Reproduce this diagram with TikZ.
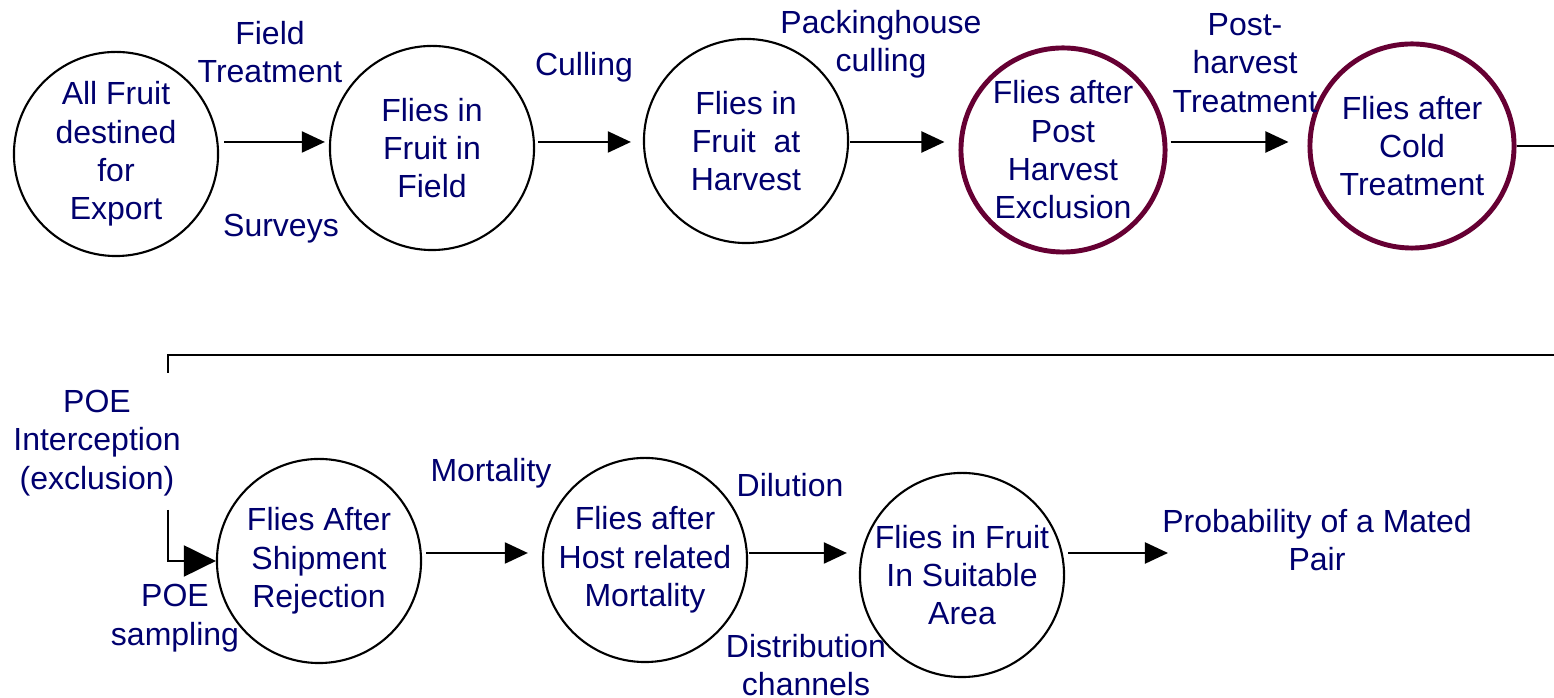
\documentclass[tikz,border=0pt]{standalone}
\usepackage{fontspec}
\setmainfont{Liberation Sans}
\usetikzlibrary{arrows.meta}
\definecolor{navytxt}{RGB}{0,0,110}
\definecolor{maroonline}{RGB}{102,0,51}
\begin{document}
\begin{tikzpicture}[x=0.01cm,y=-0.01cm,
  every node/.style={font=\fontsize{9.1}{10.9}\selectfont, text=navytxt, align=center},
  stage/.style={circle, draw=black, line width=0.6pt, minimum size=2.04cm, inner sep=0pt},
  keystage/.style={stage, draw=maroonline, line width=1.4pt},
  lbl/.style={inner sep=0pt},
  conn/.style={draw=black, line width=0.6pt},
  arr/.style={conn, -{Triangle[length=0.23cm,width=0.21cm]}},
  bigarr/.style={conn, -{Triangle[length=0.32cm,width=0.31cm]}}
]
\useasboundingbox (0,0) rectangle (1554,698);

% top row
\node[stage] (c1) at (116,154) {All Fruit\\destined\\for\\Export};
\node[stage] (c2) at (432,148) {Flies in\\Fruit in\\Field};
\node[stage] (c3) at (746,141) {Flies in\\Fruit\ \ at\\Harvest};
\node[keystage] (c4) at (1063,150) {Flies after\\Post\\Harvest\\Exclusion};
\node[keystage] (c5) at (1412,146) {Flies after\\Cold\\Treatment};

% bottom row
\node[stage] (c6) at (319,561) {Flies After\\Shipment\\Rejection};
\node[stage] (c7) at (645,560) {Flies after\\Host related\\Mortality};
\node[stage] (c8) at (962,575) {Flies in Fruit\\In Suitable\\Area};

% labels
\node[lbl] (lft) at (270,52) {Field\\Treatment};
\node[lbl] (lsv) at (281,229) {Surveys};
\node[lbl] (lcu) at (584,67) {Culling};
\node[lbl] (lpc) at (881,44) {Packinghouse\\culling};
\node[lbl] (lph) at (1245,63) {Post-\\harvest\\Treatment};
\node[lbl] (lpi) at (97,443) {POE\\Interception\\(exclusion)};
\node[lbl] (lps) at (175,618) {POE\\sampling};
\node[lbl] (lmo) at (491,473) {Mortality};
\node[lbl] (ldi) at (790,485) {Dilution};
\node[lbl] (ldc) at (806,665) {Distribution\\channels};
\node[lbl] (lpr) at (1317,540) {Probability of a Mated\\Pair};

% coordinates
\coordinate (y1) at (0,142);
\coordinate (y2) at (0,553);
\coordinate (poeTop) at (168,373);
\coordinate (poeBot) at (168,510);
\coordinate (offR) at (1600,146);
\coordinate (prEnd) at (1168,553);

% top connectors
\draw[arr, shorten <=0.5mm, shorten >=0.4mm] (c1.east |- y1) -- (c2.west |- y1);
\draw[arr, shorten <=0.3mm, shorten >=1.2mm] (c2.east |- y1) -- (c3.west |- y1);
\draw[arr, shorten <=0.1mm, shorten >=1.4mm] (c3.east |- y1) -- (c4.west |- y1);
\draw[arr, shorten <=0.3mm, shorten >=1.9mm] (c4.east |- y1) -- (c5.west |- y1);

% wrap-around connector
\draw[conn] (c5.east) -- (offR) |- (poeTop |- 0,355) -- (poeTop);
\draw[bigarr] (poeBot) |- (c6.west);

% bottom connectors
\draw[arr, shorten <=0.4mm, shorten >=1.4mm] (c6.east |- y2) -- (c7.west |- y2);
\draw[arr, shorten <=0.1mm, shorten >=1.2mm] (c7.east |- y2) -- (c8.west |- y2);
\draw[arr, shorten <=0.3mm] (c8.east |- y2) -- (prEnd);
\end{tikzpicture}
\end{document}
